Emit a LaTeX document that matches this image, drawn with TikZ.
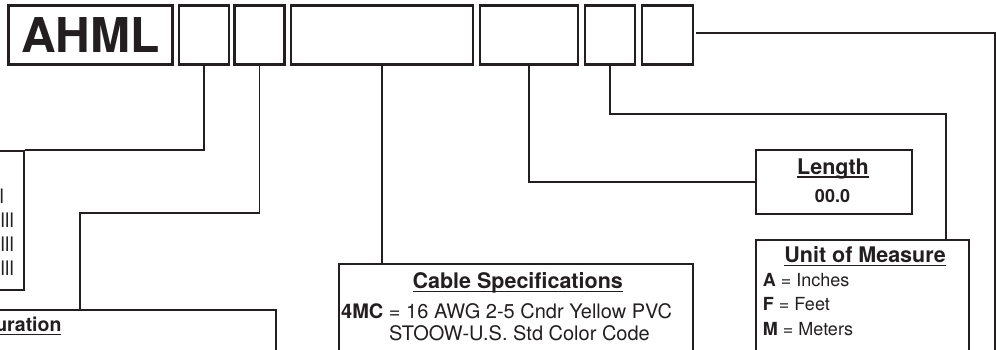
\documentclass[tikz,border=0pt]{standalone}
\usepackage{fontspec}
\setmainfont{TeX Gyre Heros}
\definecolor{ink}{HTML}{231F20}
\newsavebox\ulbox
\newcommand\myul[1]{\sbox\ulbox{#1}\rlap{\rule[-3.6pt]{\wd\ulbox}{1.4pt}}\usebox\ulbox}
\begin{document}
\begin{tikzpicture}[x=1pt,y=-1pt,
  box/.style={draw=ink, line width=2.1pt, rectangle, inner sep=0pt},
  topbox/.style={box, minimum height=59pt},
  wire/.style={draw=ink, line width=1.9pt},
  ttl/.style={inner sep=0pt, text=ink, font=\fontsize{21.5}{24}\selectfont\bfseries},
  ttlb/.style={inner sep=0pt, text=ink, font=\fontsize{19.5}{24}\selectfont\bfseries},
  txt/.style={inner sep=0pt, text=ink, font=\fontsize{18}{22}\selectfont},
  bigtxt/.style={inner sep=0pt, text=ink, font=\fontsize{20}{24}\selectfont},
  btxt/.style={inner sep=0pt, text=ink, font=\fontsize{18}{22}\selectfont\bfseries}]
\useasboundingbox (0,0) rectangle (996,350);
\clip (0,0) rectangle (996,350);
% top row of boxes
\node[topbox, minimum width=164pt, text=ink, font=\fontsize{48}{48}\selectfont\bfseries] (b1) at (90.5,35) {AHML};
\node[topbox, minimum width=50pt] (b2) at (204,35) {};
\node[topbox, minimum width=50pt] (b3) at (259.5,35) {};
\node[topbox, minimum width=181.7pt] (b4) at (381.8,35) {};
\node[topbox, minimum width=97.7pt] (b5) at (528.8,35) {};
\node[topbox, minimum width=50pt] (b6) at (610,35) {};
\node[topbox, minimum width=50.4pt] (b7) at (667.5,35) {};
% lower boxes
\node[box, minimum width=110pt, minimum height=139pt, anchor=north east] (lb) at (25,150) {};
\node[box, minimum width=400pt, minimum height=120pt, anchor=north east] (cb) at (276.7,308.5) {};
\node[box, minimum width=353.4pt, minimum height=120pt, anchor=north west] (cab) at (338.3,263) {};
\node[box, minimum width=155.7pt, minimum height=63.4pt, anchor=north west] (len) at (755,149.3) {};
\node[box, minimum width=213.3pt, minimum height=150pt, anchor=north west] (unit) at (755,239.3) {};
% texts in the left box (cut off)
\node[bigtxt, anchor=base west] (l1) at (-0.7,203) {l};
\node[bigtxt, anchor=base west] (l2) at (0.5,227) {lll};
\node[bigtxt, anchor=base west] (l3) at (0.5,251.5) {lll};
\node[bigtxt, anchor=base west] (l4) at (0.5,275.5) {lll};
% configuration box title (cut off)
\node[ttlb, anchor=base east] (cbt) at (61.7,331.7) {\myul{uration}};
% cable specifications
\node[ttl, anchor=base] (cabt) at (517.7,288.3) {\myul{Cable Specifications}};
\node[bigtxt, anchor=base west] (cab1) at (341,318.3) {\textbf{4MC} = 16 AWG 2-5 Cndr Yellow PVC};
\node[bigtxt, anchor=base west] (cab2) at (389,340) {STOOW-U.S. Std Color Code};
% length
\node[ttl, anchor=base] (lent) at (833,174.3) {\myul{Length}};
\node[btxt, anchor=base] (lenv) at (832.5,202.7) {00.0};
% unit of measure
\node[ttl, anchor=base] (unitt) at (865,262.7) {\myul{Unit of Measure}};
\node[txt, anchor=base west] (u1) at (762.7,286.7) {\textbf{A} = Inches};
\node[txt, anchor=base west] (u2) at (762.7,310.7) {\textbf{F} = Feet};
\node[txt, anchor=base west] (u3) at (762.7,335) {\textbf{M} = Meters};
% connectors
\coordinate (k3) at (80,213);
\coordinate (k6) at (945.7,114.3);
\coordinate (rc) at (995,33.3);
\coordinate (rb) at (995,352);
\draw[wire] (b2.south) |- (lb.north east);
\draw[wire] (b3.south) |- (k3) -- (k3 |- cb.north);
\draw[wire] (b4.south) -- (b4.south |- cab.north);
\draw[wire] (b5.south) |- (len.west);
\draw[wire] (b6.south) |- (k6) -- (k6 |- unit.north);
\draw[wire] ([shift={(2,-1.7)}]b7.east) -- (rc) -- (rb);
\end{tikzpicture}
\end{document}
